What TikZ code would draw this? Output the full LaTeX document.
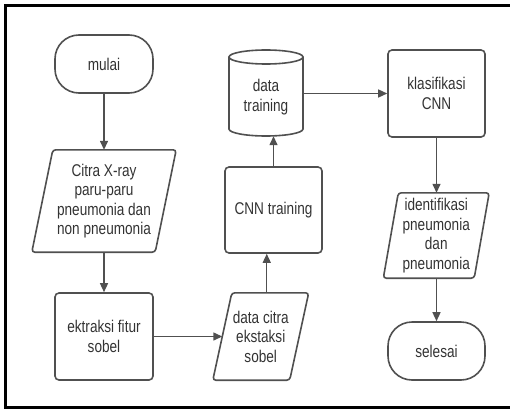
\documentclass[tikz,border=0pt]{standalone}
\usepackage{fontspec}
\setmainfont{Liberation Sans}[FakeStretch=0.8]
\usetikzlibrary{arrows.meta,calc}
\definecolor{linegray}{HTML}{505050}
\definecolor{txtgray}{HTML}{333333}
\begin{document}
\begin{tikzpicture}[x=1pt,y=-1pt,
  txt/.style={align=center,text=txtgray,font=\fontsize{17}{19.5}\selectfont,inner sep=0pt},
  shp/.style={draw=linegray,line width=1.6pt},
  boxnode/.style={txt,shp,rounded corners=4pt,minimum width=97pt,minimum height=#1},
  termnode/.style={txt,shp,rounded corners=24pt,minimum width=98pt,minimum height=58pt},
  ghost/.style={txt,minimum width=#1},
  arr/.style={draw=linegray,line width=1.4pt,-{Triangle[length=9pt,width=8pt]}}]
\useasboundingbox (0,0) rectangle (510,409);
\draw[line width=3pt,black] (516,5.5) -- (5.5,5.5) -- (5.5,407.5) -- (516,407.5);

% nodes
\node[termnode] (mulai) at (104,64) {mulai};
\node[ghost=123pt,minimum height=102pt] (citra) at (104,201) {Citra X-ray\\paru-paru\\pneumonia dan\\non pneumonia};
\node[boxnode=87pt,minimum width=98pt] (ekt) at (104,336.5) {ektraksi fitur\\sobel};
\node[ghost=76.5pt,minimum height=87pt] (dc) at (260.75,336.5) {data citra\\ekstaksi\\sobel};
\node[boxnode=86pt] (cnn) at (273.5,210) {CNN training};
\node[ghost=74pt,minimum height=78pt] (dt) at (266,97) {data\\training};
\node[boxnode=87pt] (kl) at (436.5,93.5) {klasifikasi\\CNN};
\node[ghost=90.5pt,minimum height=85pt] (id) at (436.25,235.5) {identifikasi\\pneumonia\\dan\\pneumonia};
\node[termnode,minimum width=97pt] (sel) at (436.5,351) {selesai};

% parallelograms
\draw[shp,rounded corners=3pt] ([xshift=10.5pt]citra.north west) -- ([xshift=10.5pt]citra.north east)
  -- ([xshift=-10.5pt]citra.south east) -- ([xshift=-10.5pt]citra.south west) -- cycle;
\draw[shp,rounded corners=3pt] ([xshift=9.5pt]dc.north west) -- ([xshift=9.5pt]dc.north east)
  -- ([xshift=-9.5pt]dc.south east) -- ([xshift=-9.5pt]dc.south west) -- cycle;
\draw[shp,rounded corners=3pt] ([xshift=7.5pt]id.north west) -- ([xshift=7.5pt]id.north east)
  -- ([xshift=-7.5pt]id.south east) -- ([xshift=-7.5pt]id.south west) -- cycle;

% cylinder
\draw[shp] (266,57) ellipse [x radius=37, y radius=7];
\draw[shp] (229,57) -- (229,129) .. controls (229,132.9) and (245.6,136) .. (266,136)
  .. controls (286.4,136) and (303,132.9) .. (303,129) -- (303,57);

% connectors
\draw[arr] (mulai.south) -- (citra.north);
\draw[arr] (citra.south) -- (ekt.north);
\draw[arr] (ekt.east) -- (dc.west);
\draw[arr] ([xshift=6pt]dc.north) -- ([xshift=6pt]dc.north |- cnn.south);
\draw[arr] (cnn.north) -- (cnn.north |- dt.south);
\draw[arr] (dt.east |- kl.west) -- (kl.west);
\draw[arr] (kl.south) -- (kl.south |- id.north);
\draw[arr] (id.south -| sel.north) -- (sel.north);
\end{tikzpicture}
\end{document}
